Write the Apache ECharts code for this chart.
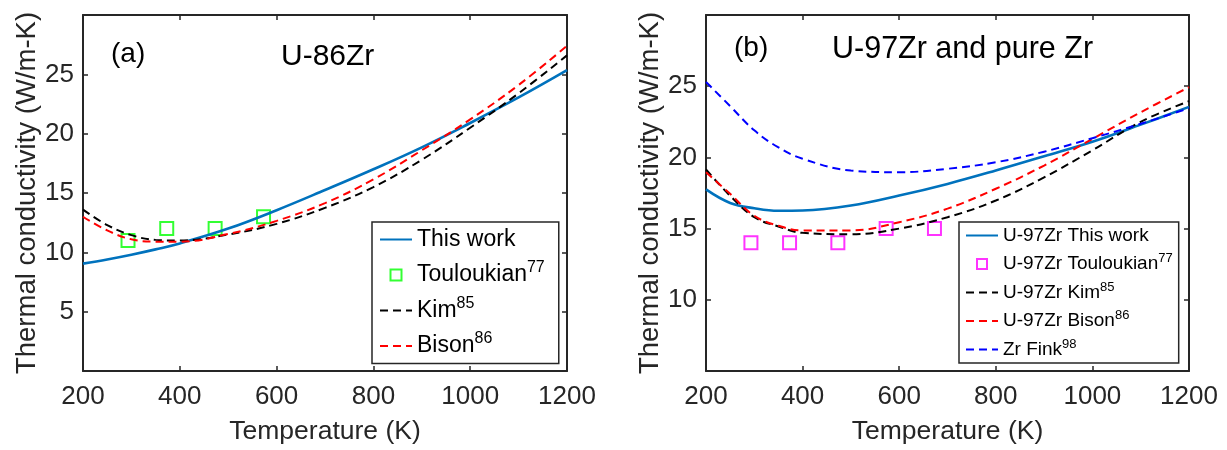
<!DOCTYPE html>
<html><head><meta charset="utf-8">
<script src="https://cdn.jsdelivr.net/npm/echarts@6/dist/echarts.min.js"></script>
<style>html,body{margin:0;padding:0;background:#fff}#c{width:1227px;height:450px}</style>
</head><body><div id="c"></div>
<script>
// ---- data ----
const temps = [200, 250, 300, 350, 400, 500, 600, 700, 800, 900, 1000, 1100, 1200];
// panel (a) U-86Zr
const aThisWork = [9.05, 9.4, 9.8, 10.25, 10.75, 12.0, 13.55, 15.25, 17.0, 18.85, 20.9, 23.05, 25.35];
const aKim      = [13.6, 12.3, 11.45, 11.05, 11.0, 11.5, 12.4, 13.75, 15.5, 17.8, 20.5, 23.4, 26.6];
const aBison    = [13.0, 11.85, 11.1, 10.9, 10.9, 11.55, 12.65, 14.15, 16.15, 18.6, 21.2, 24.1, 27.4];
const aToulT    = [293, 373, 473, 573];
const aToulV    = [11, 12, 12, 13];
// panel (b) U-97Zr and pure Zr
const bThisWork = [17.75, 16.8, 16.43, 16.25, 16.27, 16.62, 17.32, 18.14, 19.08, 20.08, 21.1, 22.3, 23.55];
const bKim      = [19.15, 17.3, 15.8, 15.15, 14.7, 14.6, 15.0, 15.8, 16.97, 18.6, 20.5, 22.5, 23.95];
const bBison    = [18.96, 17.44, 15.9, 15.2, 14.87, 14.87, 15.45, 16.4, 17.8, 19.43, 21.3, 23.17, 24.93];
const bFink     = [25.3, 23.6, 21.9, 20.7, 19.9, 19.08, 18.96, 19.2, 19.66, 20.4, 21.35, 22.36, 23.45];
const bToulT    = [293, 373, 473, 573, 673];
const bToulV    = [14, 14, 14, 15, 15];
const xLabel = 'Temperature (K)';
const yLabel = 'Thermal conductivity (W/m-K)';

// ---- chart ----
const FONT = '"Liberation Sans", Arial, Helvetica, sans-serif';
const AX = '#262626';
const pair = (xs, ys) => xs.map((x, i) => [x, ys[i]]);
const plain = v => String(v);

function xAxes(gi) {
  return [
    { type: 'value', gridIndex: gi, min: 200, max: 1200, interval: 200, position: 'bottom',
      name: xLabel, nameLocation: 'middle', nameGap: 47,
      nameTextStyle: { fontFamily: FONT, fontSize: 26.5, color: '#262626' },
      axisLine: { show: true, onZero: false, lineStyle: { color: AX, width: 2 } },
      axisTick: { show: true, inside: true, length: 5, lineStyle: { color: AX, width: 1.5 } },
      axisLabel: { fontFamily: FONT, fontSize: 26, color: '#262626', margin: 13, formatter: plain },
      splitLine: { show: false } },
    { type: 'value', gridIndex: gi, min: 200, max: 1200, interval: 200, position: 'top',
      axisLine: { show: true, onZero: false, lineStyle: { color: AX, width: 2 } },
      axisTick: { show: true, inside: true, length: 5, lineStyle: { color: AX, width: 1.5 } },
      axisLabel: { show: false }, splitLine: { show: false } }
  ];
}
function yAxes(gi, mn) {
  return [
    { type: 'value', gridIndex: gi, min: mn, max: 30, interval: 5, position: 'left',
      name: yLabel, nameLocation: 'middle', nameGap: 42,
      nameTextStyle: { fontFamily: FONT, fontSize: 27.5, color: '#262626' },
      axisLine: { show: true, onZero: false, lineStyle: { color: AX, width: 2 } },
      axisTick: { show: true, inside: true, length: 5, lineStyle: { color: AX, width: 1.5 } },
      axisLabel: { fontFamily: FONT, fontSize: 26, color: '#262626', margin: 9, showMinLabel: false, showMaxLabel: false, formatter: plain },
      splitLine: { show: false } },
    { type: 'value', gridIndex: gi, min: mn, max: 30, interval: 5, position: 'right',
      axisLine: { show: true, onZero: false, lineStyle: { color: AX, width: 2 } },
      axisTick: { show: true, inside: true, length: 5, lineStyle: { color: AX, width: 1.5 } },
      axisLabel: { show: false }, splitLine: { show: false } }
  ];
}
function lineSeries(name, gi, ys, color, dashed) {
  return { name: name, type: 'line', xAxisIndex: gi * 2, yAxisIndex: gi * 2,
    data: pair(temps, ys), smooth: 0.4, symbol: 'none',
    lineStyle: { color: color, width: dashed ? 2 : 2.6, type: dashed ? [8, 5] : 'solid' },
    itemStyle: { color: color } };
}
function sqSeries(name, gi, xs, ys, color, size) {
  return { name: name, type: 'scatter', xAxisIndex: gi * 2, yAxisIndex: gi * 2,
    data: pair(xs, ys), symbol: 'rect', symbolSize: size,
    itemStyle: { color: 'rgba(255,255,255,0)', borderColor: color, borderWidth: 2 } };
}
const fmt = n => { const p = n.split('^'); return p.length > 1 ? '{b|' + p[0] + '}{s|' + p[1] + '}' : '{b|' + p[0] + '}'; };
const noSym = { color: 'rgba(0,0,0,0)', borderWidth: 0, opacity: 0 };
const SQ = 'path://M0,0L10,0L10,10L0,10Z';
const lineItem = n => ({ name: n, itemStyle: noSym });
const sqItem = n => ({ name: n, icon: SQ });

const option = {
  animation: false,
  backgroundColor: '#fff',
  grid: [
    { left: 83, top: 15, width: 484, height: 358, containLabel: false },
    { left: 706, top: 15, width: 483, height: 358, containLabel: false }
  ],
  title: [
    { text: '(a)', left: 106, top: 35, textStyle: { fontFamily: FONT, fontSize: 28, fontWeight: 'normal', color: '#000' } },
    { text: 'U-86Zr', left: 276, top: 37, textStyle: { fontFamily: FONT, fontSize: 30, fontWeight: 'normal', color: '#000' } },
    { text: '(b)', left: 729, top: 29, textStyle: { fontFamily: FONT, fontSize: 28, fontWeight: 'normal', color: '#000' } },
    { text: 'U-97Zr and pure Zr', left: 827, top: 29, textStyle: { fontFamily: FONT, fontSize: 30.5, fontWeight: 'normal', color: '#000' } }
  ],
  legend: [
    { left: 372, top: 222, orient: 'vertical', itemWidth: 32, itemHeight: 11, itemGap: 9,
      padding: [6, 14, 6, 7], borderColor: AX, borderWidth: 1.5, backgroundColor: '#fff',
      data: [lineItem('This work'), sqItem('Touloukian^77'), lineItem('Kim^85'), lineItem('Bison^86')],
      formatter: fmt, selectedMode: false,
      textStyle: { fontFamily: FONT, color: '#000', rich: {
        b: { fontFamily: FONT, fontSize: 23, lineHeight: 30, color: '#000' },
        s: { fontFamily: FONT, fontSize: 16, lineHeight: 30, verticalAlign: 'top', color: '#000' } } } },
    { left: 959, top: 222, orient: 'vertical', itemWidth: 32, itemHeight: 10, itemGap: 7,
      padding: [4, 6, 4, 6], borderColor: AX, borderWidth: 1.5, backgroundColor: '#fff',
      data: [lineItem('U-97Zr This work'), sqItem('U-97Zr Touloukian^77'), lineItem('U-97Zr Kim^85'), lineItem('U-97Zr Bison^86'), lineItem('Zr Fink^98')],
      formatter: fmt, selectedMode: false,
      textStyle: { fontFamily: FONT, color: '#000', rich: {
        b: { fontFamily: FONT, fontSize: 19, lineHeight: 24, color: '#000' },
        s: { fontFamily: FONT, fontSize: 13, lineHeight: 24, verticalAlign: 'top', color: '#000' } } } }
  ],
  xAxis: [...xAxes(0), ...xAxes(1)],
  yAxis: [...yAxes(0, 0), ...yAxes(1, 5)],
  series: [
    lineSeries('This work', 0, aThisWork, '#0072BD', false),
    sqSeries('Touloukian^77', 0, aToulT, aToulV, '#00FF00', 13),
    lineSeries('Kim^85', 0, aKim, '#000000', true),
    lineSeries('Bison^86', 0, aBison, '#FF0000', true),
    lineSeries('U-97Zr This work', 1, bThisWork, '#0072BD', false),
    sqSeries('U-97Zr Touloukian^77', 1, bToulT, bToulV, '#FF00FF', 13),
    lineSeries('U-97Zr Kim^85', 1, bKim, '#000000', true),
    lineSeries('U-97Zr Bison^86', 1, bBison, '#FF0000', true),
    lineSeries('Zr Fink^98', 1, bFink, '#0000FF', true)
  ]
};
const chart = echarts.init(document.getElementById('c'), null, { renderer: 'canvas' });
chart.setOption(option);
</script></body></html>
